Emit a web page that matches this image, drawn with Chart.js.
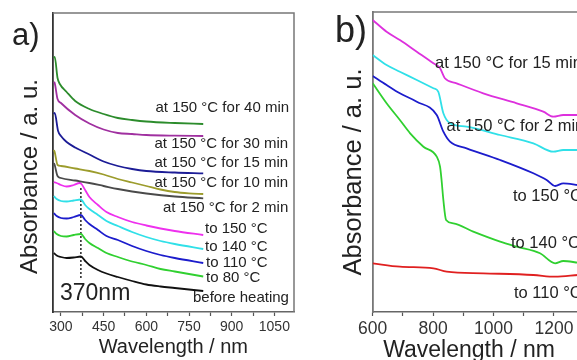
<!DOCTYPE html>
<html>
<head>
<meta charset="utf-8">
<script src="https://cdn.jsdelivr.net/npm/chart.js@4.4.1/dist/chart.umd.min.js"></script>
<style>
    html, body { margin: 0; padding: 0; background: #fff; overflow: hidden; width: 577px; height: 360px; }
    #wrapA { position: absolute; left: 0; top: 0; width: 330px; height: 360px; }
    #wrapB { position: absolute; left: 330px; top: 0; width: 330px; height: 364px; }
</style>
</head>
<body>
<div id="wrapA"><canvas id="chartA" width="330" height="360"></canvas></div>
<div id="wrapB"><canvas id="chartB" width="330" height="364"></canvas></div>
<script>
// panel a) spectra, [wavelength nm, absorbance a.u.]
const a40min = [[275,254],[278,255],[288,234],[296,228],[320,220],[350,211],[400,203],[450,198],[500,194],[550,192],[600,190.5],[700,189],[800,188]];
const a30min = [[275,230],[278,229],[288,213],[300,209],[350,197],[400,188.5],[450,182.5],[500,179],[550,178],[600,177],[700,176.3],[800,176]];
const a15min = [[275,198],[278,199],[290,181],[300,176],[320,170],[350,164.5],[400,157.5],[450,150.5],[500,146],[550,143],[600,141],[700,139.5],[800,138.7]];
const a10min = [[275,162],[278,160],[288,147],[300,146],[350,143.5],[400,141],[450,137.5],[500,133],[550,129.5],[600,126],[650,122.5],[700,120],[750,118.7],[800,118]];
const a2min = [[275,149],[278,147],[288,136],[300,134],[350,131.5],[400,129],[450,126],[500,123],[550,120.5],[600,118.5],[700,115.5],[800,113.7]];
const aTo150 = [[275,130],[285,129],[300,127],[320,125.5],[345,127],[365,129],[372,128],[385,122],[400,115],[430,107],[460,100],[500,95],[550,90],[600,86.5],[650,83.5],[700,81],[800,77]];
const aTo140 = [[275,116],[285,113],[300,111],[320,110.5],[345,111.5],[370,112.5],[385,107],[400,103],[430,97],[460,91],[500,86],[550,80],[600,75],[650,71],[700,68],[800,63]];
const aTo110 = [[275,99],[285,96],[300,94],[320,93.5],[345,95],[370,97],[385,92],[400,88],[430,82],[460,76],[500,72],[550,66],[600,61],[650,57],[700,54],[800,49]];
const aTo80 = [[275,81],[285,78],[300,76],[320,75.5],[345,77],[370,78],[385,73],[400,69],[430,64],[460,59],[500,55],[550,50.5],[600,47],[650,43],[700,40.5],[800,35.5]];
const aBefore = [[275,59],[285,56.5],[300,55],[320,54],[345,54.5],[370,55.5],[385,51],[400,47],[430,42],[460,38.5],[500,35],[550,31],[600,27.5],[650,25.5],[700,24],[800,21]];
const marker370 = [[370,124],[370,34]];

// panel b) spectra
const b15min = [[600,292],[646,280.3],[690,272],[746,260.3],[801,248.7],[823,243.7],[839,233.7],[878,228.7],[966,218.7],[1077,208.7],[1165,200.3],[1198,195.3],[1231,197],[1280,197]];
const b2min = [[600,257],[646,247],[690,240.3],[746,232],[801,223.7],[817,220.3],[834,198.7],[856,188.7],[911,185.3],[1022,177],[1132,168.7],[1198,160.3],[1231,162],[1280,162]];
const bTo150 = [[600,236],[646,227],[690,218.7],[746,210.3],[812,197],[834,180.3],[856,170.3],[911,163.7],[1022,152],[1132,138.7],[1176,132],[1204,126],[1231,128.7],[1280,127]];
const bTo140 = [[600,228.7],[646,208.7],[690,192],[724,178.7],[768,165.3],[812,155.3],[823,145.3],[828,132],[834,112],[843,92],[867,88.7],[933,80.3],[1022,70.3],[1077,65.3],[1154,58.7],[1204,48.7],[1231,51],[1280,49.3]];
const bTo110 = [[600,48.7],[690,45.3],[801,43.7],[845,40.3],[966,38.7],[1132,37],[1204,35.3],[1280,37]];

const FONT = "'Liberation Sans', Arial, sans-serif";
const TEXT = '#222';

const line = (pts, color, extra = {}) => ({
    data: pts.map(([x, y]) => ({ x, y })),
    borderColor: color,
    borderWidth: 1.8,
    pointRadius: 0,
    cubicInterpolationMode: 'monotone',
    fill: false,
    ...extra
});

// annotation text + upper frame, drawn on top of the chart
const textPlugin = (items, frameRight) => ({
    id: 'panelText',
    afterDraw(chart) {
        const { ctx, chartArea: a } = chart;
        ctx.save();
        ctx.strokeStyle = '#777';
        ctx.lineWidth = 1.5;
        ctx.beginPath();
        ctx.moveTo(a.left, a.top);
        ctx.lineTo(a.right, a.top);
        if (frameRight) ctx.lineTo(a.right, a.bottom);
        ctx.stroke();
        ctx.fillStyle = TEXT;
        items.forEach(it => {
            ctx.font = `${it.size}px ${FONT}`;
            ctx.textBaseline = it.base || 'middle';
            ctx.textAlign = it.align || 'left';
            if (it.rotate) {
                ctx.save();
                ctx.translate(it.x, it.y);
                ctx.rotate(-Math.PI / 2);
                ctx.textAlign = 'center';
                ctx.textBaseline = 'alphabetic';
                ctx.fillText(it.text, 0, 0);
                ctx.restore();
            } else {
                ctx.fillText(it.text, it.x, it.y);
            }
        });
        ctx.restore();
    }
});

const xScale = (min, max, step, labelEvery, fontSize, titleSize, titlePad) => ({
    type: 'linear',
    min, max,
    afterFit: s => { s.height = 48; },
    grid: { drawOnChartArea: false, drawTicks: true, tickLength: 4, tickColor: '#555', tickWidth: 1.2 },
    border: { display: true, color: '#666', width: 1.5 },
    ticks: {
        stepSize: step,
        includeBounds: false,
        autoSkip: false,
        maxRotation: 0,
        padding: 3,
        color: '#333',
        font: { family: FONT, size: fontSize },
        callback: v => (v % labelEvery === 0 ? v : '')
    },
    title: { display: titleSize > 0, text: 'Wavelength / nm', color: TEXT, font: { family: FONT, size: titleSize }, padding: { top: 0, bottom: titlePad } }
});

const yScale = (max, borderColor) => ({
    min: 0, max,
    afterFit: s => { s.width = 0; },
    grid: { display: false },
    ticks: { display: false },
    border: { display: true, color: borderColor, width: 1.8 }
});

const baseOptions = {
    responsive: false,
    animation: false,
    devicePixelRatio: 1,
    plugins: { legend: { display: false }, tooltip: { enabled: false } }
};

const labelsA = [
    { text: 'a)', x: 12, y: 45, size: 31, base: 'alphabetic' },
    { text: 'Absorbance / a. u.', x: 36.5, y: 176.5, size: 24, rotate: true },
    { text: 'at 150 °C for 40 min', x: 155.5, y: 108, size: 15 },
    { text: 'at 150 °C for 30 min', x: 154.5, y: 144, size: 15 },
    { text: 'at 150 °C for 15 min', x: 154.5, y: 162.5, size: 15 },
    { text: 'at 150 °C for 10 min', x: 154.5, y: 183, size: 15 },
    { text: 'at 150 °C for 2 min', x: 163, y: 208, size: 15 },
    { text: 'to 150 °C', x: 205, y: 229, size: 15 },
    { text: 'to 140 °C', x: 205, y: 246.5, size: 15 },
    { text: 'to 110 °C', x: 206, y: 263, size: 15 },
    { text: 'to 80 °C', x: 206, y: 278, size: 15 },
    { text: 'before heating', x: 193, y: 298, size: 15 },
    { text: '370nm', x: 60, y: 300, size: 23, base: 'alphabetic' }
];

const OFF_B = 330;
const labelsB = [
    { text: 'b)', x: 335 - OFF_B, y: 41.5, size: 36, base: 'alphabetic' },
    { text: 'Absorbance / a. u.', x: 361 - OFF_B, y: 172, size: 25.5, rotate: true },
    { text: 'Wavelength / nm', x: 469 - OFF_B, y: 351, size: 23, align: 'center' },
    { text: 'at 150 °C for 15 min', x: 435 - OFF_B, y: 63, size: 16.5 },
    { text: 'at 150 °C for 2 min', x: 446.5 - OFF_B, y: 126.5, size: 16.5 },
    { text: 'to 150 °C', x: 513 - OFF_B, y: 196.5, size: 16.5 },
    { text: 'to 140 °C', x: 511 - OFF_B, y: 243, size: 16.5 },
    { text: 'to 110 °C', x: 514 - OFF_B, y: 293, size: 16.5 }
];

new Chart(document.getElementById('chartA'), {
    type: 'line',
    data: {
        datasets: [
            line(a40min, '#2c8c2c'),
            line(a30min, '#a030a0'),
            line(a15min, '#1c1c96'),
            line(a10min, '#9c9c2c'),
            line(a2min, '#4a4a4a'),
            line(aTo150, '#ee30ee'),
            line(aTo140, '#30e0e8'),
            line(aTo110, '#1c1ccc'),
            line(aTo80, '#30d030'),
            line(aBefore, '#111111'),
            line(marker370, '#222', { borderWidth: 1.5, borderDash: [2, 2], cubicInterpolationMode: 'default' })
        ]
    },
    options: {
        ...baseOptions,
        layout: { padding: { left: 52.7, right: 36, top: 13, bottom: 0 } },
        scales: {
            x: xScale(271, 1119, 75, 150, 14, 20, 1),
            y: yScale(299, '#333')
        }
    },
    plugins: [textPlugin(labelsA, true)]
});

new Chart(document.getElementById('chartB'), {
    type: 'line',
    data: {
        datasets: [
            line(b15min, '#dd30dd'),
            line(b2min, '#30e0e8'),
            line(bTo150, '#1c1ccc'),
            line(bTo140, '#30d030'),
            line(bTo110, '#e02020')
        ]
    },
    options: {
        ...baseOptions,
        layout: { padding: { left: 42.7, right: 45.7, top: 12, bottom: 4 } },
        scales: {
            x: xScale(600, 1400, 100, 200, 17.5, 0, 0),
            y: yScale(300, '#777')
        }
    },
    plugins: [textPlugin(labelsB, false)]
});
</script>
</body>
</html>
